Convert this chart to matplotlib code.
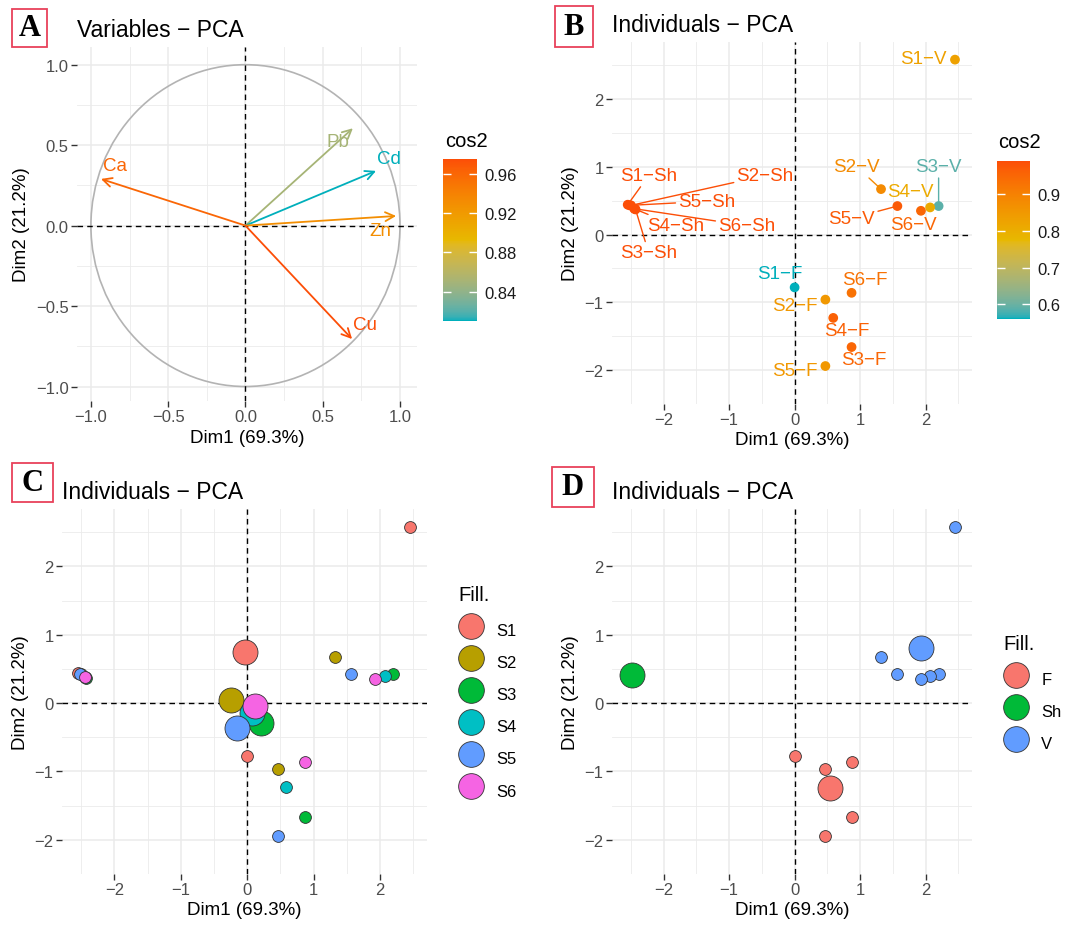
import numpy as np
import matplotlib
matplotlib.use('Agg')
import matplotlib.pyplot as plt
from matplotlib.colors import ListedColormap, Normalize, to_rgb
from matplotlib.cm import ScalarMappable
from matplotlib.lines import Line2D
from matplotlib.patches import Circle, Rectangle

plt.rcParams['font.family'] = ['Liberation Sans', 'DejaVu Sans']

# ---- data: variables (panel A)
var_names = ['Ca', 'Pb', 'Cd', 'Zn', 'Cu']
var_dim1 = [-0.935, 0.695, 0.845, 0.975, 0.690]
var_dim2 = [0.290, 0.605, 0.340, 0.060, -0.705]
var_cos2 = [0.960, 0.850, 0.810, 0.930, 0.975]

# ---- data: individuals (panels B-D)
sites = ['S1', 'S2', 'S3', 'S4', 'S5', 'S6']
types = ['F', 'Sh', 'V']
ind_site = sites * 3
ind_type = ['F'] * 6 + ['Sh'] * 6 + ['V'] * 6
ind_dim1 = [0.00, 0.47, 0.87, 0.59, 0.47, 0.87,
            -2.55, -2.50, -2.43, -2.45, -2.52, -2.44,
            2.45, 1.32, 2.20, 2.07, 1.57, 1.93]
ind_dim2 = [-0.78, -0.96, -1.66, -1.23, -1.94, -0.86,
            0.44, 0.43, 0.37, 0.38, 0.43, 0.38,
            2.58, 0.67, 0.42, 0.40, 0.42, 0.35]
ind_cos2 = [0.56, 0.85, 0.95, 0.96, 0.85, 0.93,
            0.99, 0.99, 0.99, 0.99, 0.99, 0.99,
            0.83, 0.88, 0.59, 0.81, 0.97, 0.95]

# ---- layout only: label positions
var_lab = {'Ca': (-0.845, 0.375), 'Pb': (0.60, 0.52), 'Cd': (0.93, 0.42),
           'Zn': (0.87, -0.03), 'Cu': (0.775, -0.615)}
ind_lab = {'S1-F': (-0.22, -0.57), 'S2-F': (0.01, -1.04), 'S3-F': (1.05, -1.84),
           'S4-F': (0.80, -1.42), 'S5-F': (0.01, -2.01), 'S6-F': (1.08, -0.67),
           'S1-Sh': (-2.23, 0.87), 'S2-Sh': (-0.45, 0.87), 'S3-Sh': (-2.23, -0.27),
           'S4-Sh': (-1.82, 0.13), 'S5-Sh': (-1.34, 0.49), 'S6-Sh': (-0.73, 0.13),
           'S1-V': (1.97, 2.59), 'S2-V': (0.95, 1.00), 'S3-V': (2.20, 1.00),
           'S4-V': (1.77, 0.63), 'S5-V': (0.875, 0.24), 'S6-V': (1.82, 0.15)}
with_segment = ['S1-Sh', 'S2-Sh', 'S3-Sh', 'S4-Sh', 'S5-Sh', 'S6-Sh',
                'S2-V', 'S3-V', 'S5-V']

site_cols = ['#F8766D', '#B79F00', '#00BA38', '#00BFC4', '#619CFF', '#F564E3']
type_cols = ['#F8766D', '#00BA38', '#619CFF']
grad_cols = ['#00AFBB', '#E7B800', '#FC4E07']

# gradient interpolated in Lab space, like ggplot's gradientn
M = np.array([[0.4124, 0.3576, 0.1805], [0.2126, 0.7152, 0.0722],
              [0.0193, 0.1192, 0.9505]])
WHITE = np.array([0.95047, 1.0, 1.08883])


def rgb2lab(rgb):
    c = np.array(rgb)
    c = np.where(c > 0.04045, ((c + 0.055) / 1.055) ** 2.4, c / 12.92)
    xyz = M @ c / WHITE
    f = np.where(xyz > 0.008856, np.cbrt(xyz), 7.787 * xyz + 16 / 116)
    return np.array([116 * f[1] - 16, 500 * (f[0] - f[1]), 200 * (f[1] - f[2])])


def lab2rgb(lab):
    fy = (lab[0] + 16) / 116
    f = np.array([fy + lab[1] / 500, fy, fy - lab[2] / 200])
    xyz = np.where(f ** 3 > 0.008856, f ** 3, (f - 16 / 116) / 7.787) * WHITE
    c = np.linalg.solve(M, xyz)
    c = np.where(c > 0.0031308, 1.055 * np.abs(c) ** (1 / 2.4) - 0.055, 12.92 * c)
    return np.clip(c, 0, 1)


labs = [rgb2lab(to_rgb(c)) for c in grad_cols]
cm_list = []
for t in np.linspace(0, 1, 256):
    seg = min(int(t * 2), 1)
    u = t * 2 - seg
    cm_list.append(lab2rgb(labs[seg] * (1 - u) + labs[seg + 1] * u))
cmap = ListedColormap(cm_list)

W, H = 1087, 928
fig = plt.figure(figsize=(W / 100, H / 100), dpi=100)


def fbox(x0, y0, x1, y1):
    return [x0 / W, 1 - y1 / H, (x1 - x0) / W, (y1 - y0) / H]


def minus(v, fmt):
    return (fmt % v).replace('-', '\u2212')


def style(ax, lim_x, lim_y, major, minor, fmt):
    ax.set_xlim(*lim_x)
    ax.set_ylim(*lim_y)
    for s in ax.spines.values():
        s.set_visible(False)
    ax.set_xticks(major)
    ax.set_yticks(major)
    ax.set_xticks(minor, minor=True)
    ax.set_yticks(minor, minor=True)
    ax.set_xticklabels([minus(v, fmt) for v in major])
    ax.set_yticklabels([minus(v, fmt) for v in major])
    ax.grid(which='major', color='#EBEBEB', lw=1.1)
    ax.grid(which='minor', color='#EBEBEB', lw=0.6)
    ax.set_axisbelow(True)
    ax.tick_params(which='major', length=4, width=1, color='#333333',
                   labelsize=12, labelcolor='#4D4D4D', pad=2)
    ax.tick_params(which='minor', length=0)
    ax.axhline(0, color='black', ls='--', lw=1, dashes=(4, 3), zorder=1.5)
    ax.axvline(0, color='black', ls='--', lw=1, dashes=(4, 3), zorder=1.5)
    ax.set_xlabel('Dim1 (69.3%)', fontsize=13.5, labelpad=3)
    ax.set_ylabel('Dim2 (21.2%)', fontsize=13.5, labelpad=4)


def panel_tag(letter, x0, y0, x1, y1):
    fig.patches.append(Rectangle((x0 / W, 1 - y1 / H), (x1 - x0) / W, (y1 - y0) / H,
                                 transform=fig.transFigure, fill=False,
                                 ec='#E8415A', lw=1.3))
    fig.text((x0 + x1) / 2 / W, 1 - (y0 + y1) / 2 / H, letter,
             family='Liberation Serif', weight='bold', fontsize=22,
             ha='center', va='center')


def colorbar(norm, ticks, fmt, box, title_xy):
    cax = fig.add_axes(fbox(*box))
    cb = fig.colorbar(ScalarMappable(norm=norm, cmap=cmap), cax=cax, ticks=ticks)
    cb.outline.set_visible(False)
    cax.yaxis.set_ticks_position('both')
    cax.set_yticklabels([fmt % t for t in ticks])
    cax.tick_params(axis='y', direction='in', length=6, width=1, color='white',
                    labelsize=12, labelcolor='#1A1A1A', pad=5,
                    labelleft=False, labelright=True)
    fig.text(title_xy[0] / W, 1 - title_xy[1] / H, 'cos2', fontsize=14.5,
             ha='left', va='center')


ind_x = np.array(ind_dim1)
ind_y = np.array(ind_dim2)
ind_c = np.array(ind_cos2)
ind_names = [s + '-' + t for s, t in zip(ind_site, ind_type)]

lim_x = (-2.79, 2.71)
lim_y = (-2.16, 2.84)
ind_major = [-2, -1, 0, 1, 2]
ind_minor = [-2.5, -1.5, -0.5, 0.5, 1.5, 2.5]

# ---- A: variables
axA = fig.add_axes(fbox(77, 48, 417, 402))
style(axA, (-1.09, 1.11), (-1.09, 1.11), [-1.0, -0.5, 0.0, 0.5, 1.0],
      [-0.75, -0.25, 0.25, 0.75], '%.1f')
axA.add_patch(Circle((0, 0), 1, fill=False, ec='#B3B3B3', lw=1.2))
normA = Normalize(min(var_cos2), max(var_cos2))
for name, x, y, c in zip(var_names, var_dim1, var_dim2, var_cos2):
    col = cmap(normA(c))
    axA.annotate('', xy=(x, y), xytext=(0, 0),
                 arrowprops=dict(arrowstyle='->', color=col, lw=1.3,
                                 shrinkA=0, shrinkB=0, mutation_scale=16))
    lx, ly = var_lab[name]
    axA.text(lx, ly, name, color=col, fontsize=13.5, ha='center', va='center')
axA.set_title('Variables \u2212 PCA', fontsize=16.5, loc='left', pad=8)
colorbar(normA, [0.84, 0.88, 0.92, 0.96], '%.2f', (443, 160, 477, 322), (445, 142))
panel_tag('A', 12, 10, 47, 48)

# ---- B: individuals coloured by cos2
axB = fig.add_axes(fbox(612, 43, 972, 405))
style(axB, lim_x, lim_y, ind_major, ind_minor, '%d')
normB = Normalize(ind_c.min(), ind_c.max())
for name, x, y, c in zip(ind_names, ind_x, ind_y, ind_c):
    col = cmap(normB(c))
    lx, ly = ind_lab[name]
    label = name.replace('-', '\u2212')
    if name in with_segment:
        axB.annotate(label, xy=(x, y), xytext=(lx, ly), color=col, fontsize=13.5,
                     ha='center', va='center',
                     arrowprops=dict(arrowstyle='-', color=col, lw=1,
                                     shrinkA=0, shrinkB=3))
    else:
        axB.text(lx, ly, label, color=col, fontsize=13.5, ha='center', va='center')
axB.scatter(ind_x, ind_y, c=ind_c, cmap=cmap, norm=normB, s=36, zorder=3)
axB.set_title('Individuals \u2212 PCA', fontsize=16.5, loc='left', pad=8)
colorbar(normB, [0.6, 0.7, 0.8, 0.9], '%.1f', (997, 162, 1030, 320), (998, 143))
panel_tag('B', 555, 7, 593, 48)


def group_panel(box, groups, key, cols, title, legend_anchor, tag, tag_box):
    ax = fig.add_axes(fbox(*box))
    style(ax, lim_x, lim_y, ind_major, ind_minor, '%d')
    key = np.array(key)
    for g, col in zip(groups, cols):
        m = key == g
        ax.plot(ind_x[m], ind_y[m], 'o', ms=8.5, mfc=col, mec='#333333',
                mew=0.6, ls='none', zorder=3)
    for g, col in zip(groups, cols):
        m = key == g
        ax.plot(ind_x[m].mean(), ind_y[m].mean(), 'o', ms=18, mfc=col,
                mec='#333333', mew=0.6, ls='none', zorder=4)
    handles = [Line2D([], [], marker='o', ls='none', ms=18.5, mfc=c,
                      mec='#333333', mew=0.6) for c in cols]
    leg = ax.legend(handles, groups, title='Fill.', loc='upper left',
                    bbox_to_anchor=(legend_anchor[0] / W, 1 - legend_anchor[1] / H),
                    bbox_transform=fig.transFigure, frameon=False, fontsize=12,
                    title_fontsize=14.5, alignment='left', borderpad=0,
                    borderaxespad=0, handlelength=1.6, handleheight=2.05,
                    labelspacing=0.35, handletextpad=0.7)
    # a little more room between the legend title and the keys
    leg._legend_box.sep = 9
    ax.set_title(title, fontsize=16.5, loc='left', pad=8)
    panel_tag(tag, *tag_box)


group_panel((62, 510, 427, 875), sites, ind_site, site_cols,
            'Individuals \u2212 PCA', (458, 586), 'C', (12, 464, 53, 503))
group_panel((612, 510, 972, 875), types, ind_type, type_cols,
            'Individuals \u2212 PCA', (1003, 635), 'D', (552, 468, 594, 508))

fig.savefig('out.png', dpi=100)
